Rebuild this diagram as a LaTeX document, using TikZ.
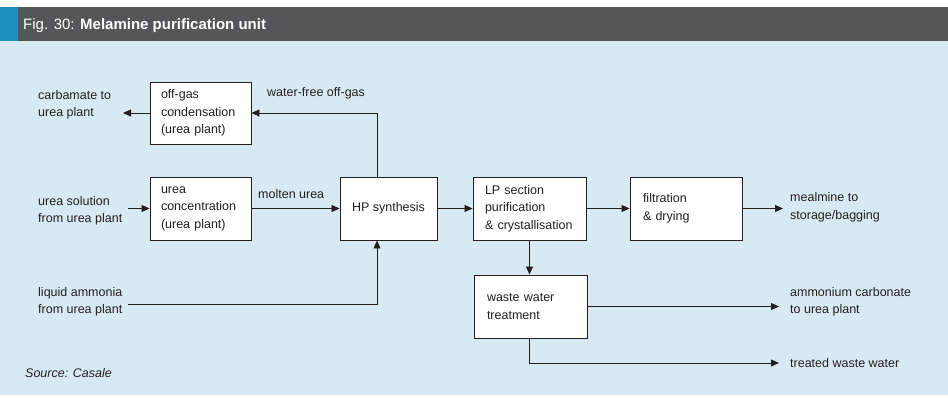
\documentclass[tikz,border=0pt]{standalone}
\usepackage{fontspec}
\setmainfont{Liberation Sans}
\usetikzlibrary{arrows.meta}
\definecolor{hdr}{HTML}{545758}
\definecolor{strip}{HTML}{1E8FBD}
\definecolor{bg}{HTML}{D7EAF3}
\definecolor{ink}{HTML}{231F20}
\begin{document}
\begin{tikzpicture}[x=1pt,y=-1pt,
  font=\fontsize{12.5}{17.5}\selectfont,
  box/.style={draw=ink, fill=white, line width=0.9pt, align=left, inner xsep=11pt, inner ysep=0pt, text=ink, minimum height=63pt},
  lbl/.style={anchor=west, align=left, inner sep=0pt, text=ink},
  flow/.style={draw=ink, line width=0.8pt, -{Triangle[length=8pt,width=7pt]}}]
\useasboundingbox (0,0) rectangle (948,398);
\fill[white] (0,0) rectangle (948,398);
\fill[bg] (0,41) rectangle (948,395);
\fill[hdr] (0,7) rectangle (948,41);
\fill[strip] (0,7) rectangle (18,41);
\node[anchor=base west, text=white, font=\fontsize{15}{18}\selectfont, inner sep=0pt] (title) at (23,30) {Fig. 30: \textbf{Melamine purification unit}};

% boxes
\node[box, text width=79pt, minimum height=62pt] (offgas) at (200.5,113) {off-gas\\condensation\\(urea plant)};
\node[box, text width=79pt] (ureac) at (200.5,208.5) {urea\\concentration\\(urea plant)};
\node[box, align=center, minimum width=97pt, inner xsep=0pt] (hp) at (388.5,208.5) {HP synthesis};
\node[box, text width=89pt, inner xsep=12pt] (lp) at (529.5,208.5) {LP section\\purification\\\& crystallisation};
\node[box, text width=86pt, inner xsep=13pt] (filt) at (686,208.5) {filtration\\\& drying};
\node[box, text width=87pt, inner xsep=13pt] (waste) at (530.5,306.5) {waste water\\treatment};

% labels
\node[lbl] (lcarb) at (38,105) {carbamate to\\urea plant};
\node[lbl] (lurea) at (38,211) {urea solution\\from urea plant};
\node[lbl] (lnh3) at (38,302) {liquid ammonia\\from urea plant};
\node[lbl] (lmolten) at (258,194) {molten urea};
\node[lbl] (lwf) at (267,93) {water-free off-gas};
\node[lbl] (lmel) at (790,207.5) {mealmine to\\storage/bagging};
\node[lbl] (lamm) at (790,302) {ammonium carbonate\\to urea plant};
\node[lbl] (ltreat) at (790,363) {treated waste water};
\node[lbl, font=\fontsize{12.5}{15}\selectfont\itshape] (src) at (25,373) {Source: Casale};

% connector end points
\coordinate (c1) at (123,113);
\coordinate (c2) at (128,208.5);
\coordinate (c3) at (128,304);
\coordinate (c4) at (783,208.5);
\coordinate (c5) at (779,306.5);
\coordinate (c6) at (779,363);

% connectors
\draw[flow] (offgas.west) -- (c1);
\draw[flow] (c2) -- (ureac.west);
\draw[flow] (ureac.east) -- (hp.west);
\draw[flow] ([xshift=-11.5pt]hp.north) |- (offgas.east);
\draw[flow] (c3) -| ([xshift=-11.5pt]hp.south);
\draw[flow] (hp.east) -- (lp.west);
\draw[flow] (lp.east) -- (filt.west);
\draw[flow] (filt.east) -- (c4);
\draw[flow] (lp.south) -- (lp.south |- waste.north);
\draw[flow] (waste.east) -- (c5);
\draw[flow] (lp.south |- waste.south) |- (c6);
\end{tikzpicture}
\end{document}
